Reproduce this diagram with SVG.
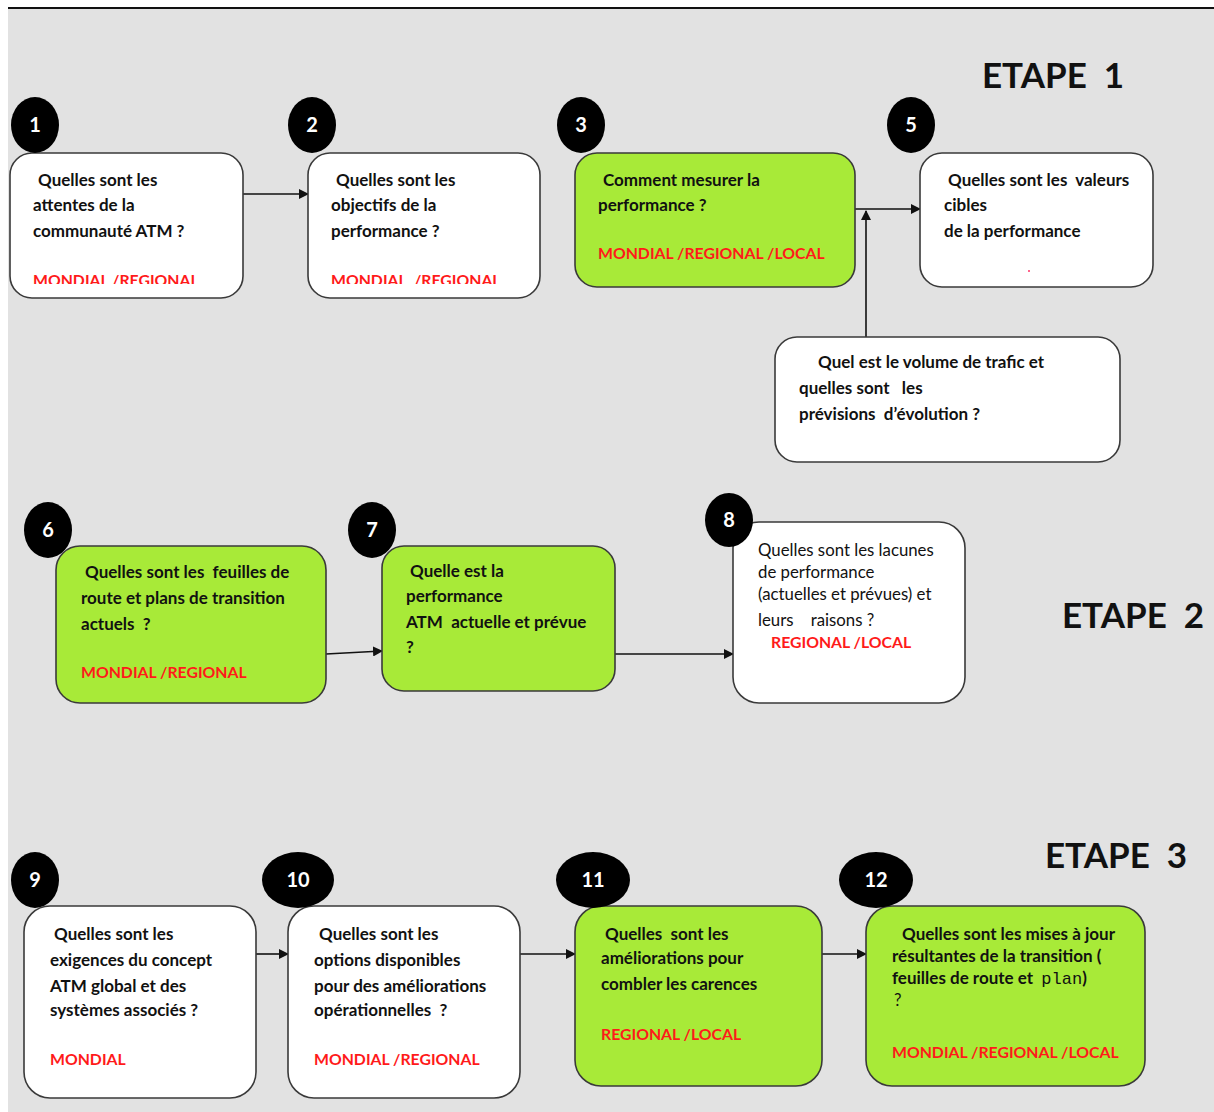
<svg xmlns="http://www.w3.org/2000/svg" width="1214" height="1112" viewBox="0 0 1214 1112">
  <defs>
    <marker id="arrow" viewBox="0 0 10 10" refX="9" refY="5" markerWidth="10" markerHeight="10" markerUnits="userSpaceOnUse" orient="auto">
      <path d="M0,0 L10,5 L0,10 z" fill="#111"/>
    </marker>
    <clipPath id="clip1"><rect x="10" y="153" width="233" height="131"/></clipPath>
    <clipPath id="clip2"><rect x="308" y="153" width="232" height="131"/></clipPath>
  </defs>
  <style>
    text { white-space: pre; }
    .bg { fill: #e2e2e2; }
    .box { stroke: #3a3a3a; stroke-width: 1.6; }
    .white { fill: #ffffff; }
    .green { fill: #a8ea38; }
    .badge { fill: #000000; }
    .num { fill: #ffffff; font-family: Lato, "Liberation Sans", sans-serif; font-weight: bold; font-size: 20px; text-anchor: middle; }
    .q { fill: #111111; font-family: Lato, "Liberation Sans", sans-serif; font-weight: bold; font-size: 17px; }
    .ql { fill: #111111; font-family: Lato, "Liberation Sans", sans-serif; font-size: 16.8px; }
    .scope { fill: #ff1a1a; font-family: Lato, "Liberation Sans", sans-serif; font-weight: bold; font-size: 15.8px; }
    .etape { fill: #111111; font-family: Lato, "Liberation Sans", sans-serif; font-size: 35px; font-weight: bold; }
    .mono { font-family: "Liberation Mono", monospace; font-weight: normal; }
    .conn { stroke: #111; stroke-width: 1.6; fill: none; marker-end: url(#arrow); }
  </style>

  <!-- canvas -->
  <rect x="0" y="0" width="1214" height="1112" fill="#ffffff"/>
  <rect class="bg" x="8" y="8" width="1206" height="1104"/>
  <line x1="8" y1="8" x2="1214" y2="8" stroke="#111" stroke-width="2"/>

  <!-- stage titles -->
  <text class="etape" x="982" y="88">ETAPE  1</text>
  <text class="etape" x="1062" y="628">ETAPE  2</text>
  <text class="etape" x="1045" y="868">ETAPE  3</text>

  <!-- connectors -->
  <g id="connectors">
    <line class="conn" x1="243" y1="194" x2="308" y2="194"/>
    <line class="conn" x1="855" y1="209" x2="920" y2="209"/>
    <line class="conn" x1="866" y1="337" x2="866" y2="211"/>
    <line class="conn" x1="326" y1="654" x2="382" y2="651"/>
    <line class="conn" x1="615" y1="654" x2="733" y2="654"/>
    <line class="conn" x1="256" y1="954" x2="288" y2="954"/>
    <line class="conn" x1="520" y1="954" x2="575" y2="954"/>
    <line class="conn" x1="822" y1="954" x2="866" y2="954"/>
  </g>

  <!-- step 1 -->
  <g id="node1">
    <rect class="box white" x="10" y="153" width="233" height="145" rx="22"/>
    <text class="q" x="38" y="186">Quelles sont les</text>
    <text class="q" x="33" y="211">attentes de la</text>
    <text class="q" x="33" y="237">communauté ATM ?</text>
    <text class="scope" x="33" y="286" clip-path="url(#clip1)">MONDIAL /REGIONAL</text>
    <ellipse class="badge" cx="35" cy="125" rx="24" ry="28"/>
    <text class="num" x="35" y="132">1</text>
  </g>

  <g id="node2">
    <rect class="box white" x="308" y="153" width="232" height="145" rx="22"/>
    <text class="q" x="336" y="186">Quelles sont les</text>
    <text class="q" x="331" y="211">objectifs de la</text>
    <text class="q" x="331" y="237">performance ?</text>
    <text class="scope" x="331" y="286" clip-path="url(#clip2)">MONDIAL  /REGIONAL</text>
    <ellipse class="badge" cx="312" cy="125" rx="24" ry="28"/>
    <text class="num" x="312" y="132">2</text>
  </g>

  <g id="node3">
    <rect class="box green" x="575" y="153" width="280" height="134" rx="22"/>
    <text class="q" x="603" y="186">Comment mesurer la</text>
    <text class="q" x="598" y="211">performance ?</text>
    <text class="scope" x="598" y="259">MONDIAL /REGIONAL /LOCAL</text>
    <ellipse class="badge" cx="581" cy="125" rx="24" ry="28"/>
    <text class="num" x="581" y="132">3</text>
  </g>

  <g id="node5">
    <rect class="box white" x="920" y="153" width="233" height="134" rx="22"/>
    <text class="q" x="948" y="186">Quelles sont les  valeurs</text>
    <text class="q" x="944" y="211">cibles</text>
    <text class="q" x="944" y="237">de la performance</text>
    <circle cx="1029" cy="271" r="1" fill="#ff3366"/>
    <ellipse class="badge" cx="911" cy="125" rx="24" ry="28"/>
    <text class="num" x="911" y="132">5</text>
  </g>

  <g id="node-traffic">
    <rect class="box white" x="775" y="337" width="345" height="125" rx="22"/>
    <text class="q" x="818" y="368">Quel est le volume de trafic et</text>
    <text class="q" x="799" y="394">quelles sont   les</text>
    <text class="q" x="799" y="420">prévisions  d’évolution ?</text>
  </g>

  <!-- step 2 -->
  <g id="node6">
    <rect class="box green" x="56" y="546" width="270" height="157" rx="24"/>
    <text class="q" x="85" y="578">Quelles sont les  feuilles de</text>
    <text class="q" x="81" y="604">route et plans de transition</text>
    <text class="q" x="81" y="630">actuels  ?</text>
    <text class="scope" x="81" y="678">MONDIAL /REGIONAL</text>
    <ellipse class="badge" cx="48" cy="530" rx="24" ry="28"/>
    <text class="num" x="48" y="537">6</text>
  </g>

  <g id="node7">
    <rect class="box green" x="382" y="546" width="233" height="145" rx="22"/>
    <text class="q" x="410" y="577">Quelle est la</text>
    <text class="q" x="406" y="602">performance</text>
    <text class="q" x="406" y="628">ATM  actuelle et prévue</text>
    <text class="q" x="406" y="653">?</text>
    <ellipse class="badge" cx="372" cy="530" rx="24" ry="28"/>
    <text class="num" x="372" y="537">7</text>
  </g>

  <g id="node8">
    <rect class="box white" x="733" y="522" width="232" height="181" rx="26"/>
    <text class="ql" x="758" y="556">Quelles sont les lacunes</text>
    <text class="ql" x="758" y="578">de performance</text>
    <text class="ql" x="758" y="600">(actuelles et prévues) et</text>
    <text class="ql" x="758" y="626">leurs    raisons ?</text>
    <text class="scope" x="771" y="648">REGIONAL /LOCAL</text>
    <ellipse class="badge" cx="729" cy="520" rx="24" ry="27"/>
    <text class="num" x="729" y="527">8</text>
  </g>

  <!-- step 3 -->
  <g id="node9">
    <rect class="box white" x="24" y="906" width="232" height="192" rx="26"/>
    <text class="q" x="54" y="940">Quelles sont les</text>
    <text class="q" x="50" y="966">exigences du concept</text>
    <text class="q" x="50" y="992">ATM global et des</text>
    <text class="q" x="50" y="1016">systèmes associés ?</text>
    <text class="scope" x="50" y="1065">MONDIAL</text>
    <ellipse class="badge" cx="35" cy="880" rx="24" ry="28"/>
    <text class="num" x="35" y="887">9</text>
  </g>

  <g id="node10">
    <rect class="box white" x="288" y="906" width="232" height="192" rx="26"/>
    <text class="q" x="319" y="940">Quelles sont les</text>
    <text class="q" x="314" y="966">options disponibles</text>
    <text class="q" x="314" y="992">pour des améliorations</text>
    <text class="q" x="314" y="1016">opérationnelles  ?</text>
    <text class="scope" x="314" y="1065">MONDIAL /REGIONAL</text>
    <ellipse class="badge" cx="298" cy="880" rx="36" ry="28"/>
    <text class="num" x="298" y="887">10</text>
  </g>

  <g id="node11">
    <rect class="box green" x="575" y="906" width="247" height="180" rx="26"/>
    <text class="q" x="605" y="940">Quelles  sont les</text>
    <text class="q" x="601" y="964">améliorations pour</text>
    <text class="q" x="601" y="990">combler les carences</text>
    <text class="scope" x="601" y="1040">REGIONAL /LOCAL</text>
    <ellipse class="badge" cx="593" cy="880" rx="37" ry="28"/>
    <text class="num" x="593" y="887">11</text>
  </g>

  <g id="node12">
    <rect class="box green" x="866" y="906" width="279" height="180" rx="26"/>
    <text class="q" x="902" y="940">Quelles sont les mises à jour</text>
    <text class="q" x="892" y="962">résultantes de la transition (</text>
    <text class="q" x="892" y="984">feuilles de route et  <tspan class="mono">plan</tspan>)</text>
    <text class="ql" x="894" y="1006" fill="#555">?</text>
    <text class="scope" x="892" y="1058">MONDIAL /REGIONAL /LOCAL</text>
    <ellipse class="badge" cx="876" cy="880" rx="37" ry="28"/>
    <text class="num" x="876" y="887">12</text>
  </g>
</svg>
